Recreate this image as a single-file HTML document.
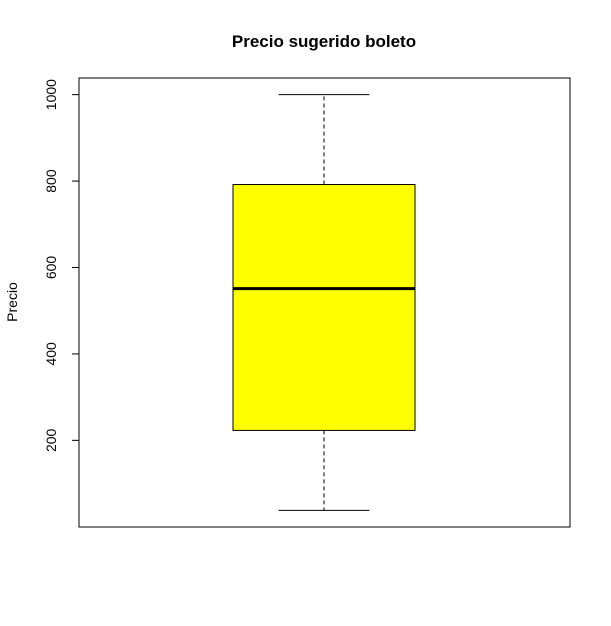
<!DOCTYPE html>
<html><head><meta charset="utf-8"><style>
body{margin:0;background:#fff}
svg{display:block;font-family:"Liberation Sans",sans-serif}
</style></head><body>
<svg id="chart" width="611" height="626">
<text x="324" y="47" text-anchor="middle" font-size="17" font-weight="bold">Precio sugerido boleto</text>
<rect x="79" y="78" width="491" height="449" fill="none" stroke="#000"/>
<text transform="translate(17,302) rotate(-90)" text-anchor="middle" font-size="14">Precio</text>
<g id="axis"></g>
<g id="marks"></g>
</svg>
<script>
const yTicks=[200,400,600,800,1000];
const stats=[38,223,551,792,1000]; // min, q1, median, q3, max
const yMin=-0.5, yMax=1038.5;
const plotTop=78,plotBottom=527;
function y(v){return plotBottom-(v-yMin)/(yMax-yMin)*(plotBottom-plotTop);}
const ns="http://www.w3.org/2000/svg";
function el(t,a,p){const e=document.createElementNS(ns,t);for(const k in a)e.setAttribute(k,a[k]);p.appendChild(e);return e;}
const ax=document.getElementById('axis');
el('line',{x1:79,x2:79,y1:y(yTicks[0]),y2:y(yTicks[yTicks.length-1]),stroke:'#000'},ax);
yTicks.forEach(t=>{
 const l=el('line',{x1:72,x2:79,y1:y(t),y2:y(t),stroke:'#000'},ax);
 
 
 const tx=el('text',{transform:`translate(56,${y(t)}) rotate(-90)`,'text-anchor':'middle','font-size':14},ax);
 tx.textContent=t;
 
 
});
const m=document.getElementById('marks');
const cx=324,bw=91,cw=45.5;
const [mn,q1,md,q3,mx]=stats;
let e;
e=el('line',{x1:cx,x2:cx,y1:y(q3),y2:y(mx),stroke:'#000','stroke-dasharray':'4,3'},m);

e=el('line',{x1:cx,x2:cx,y1:y(q1),y2:y(mn),stroke:'#000','stroke-dasharray':'4,3'},m);

e=el('line',{x1:cx-cw,x2:cx+cw,y1:y(mx),y2:y(mx),stroke:'#000'},m);

e=el('line',{x1:cx-cw,x2:cx+cw,y1:y(mn),y2:y(mn),stroke:'#000'},m);

e=el('rect',{x:cx-bw,y:y(q3),width:2*bw,height:y(q1)-y(q3),fill:'#ffff00',stroke:'#000'},m);

e=el('line',{x1:cx-bw,x2:cx+bw,y1:y(md),y2:y(md),stroke:'#000','stroke-width':3},m);

</script>
</body></html>
